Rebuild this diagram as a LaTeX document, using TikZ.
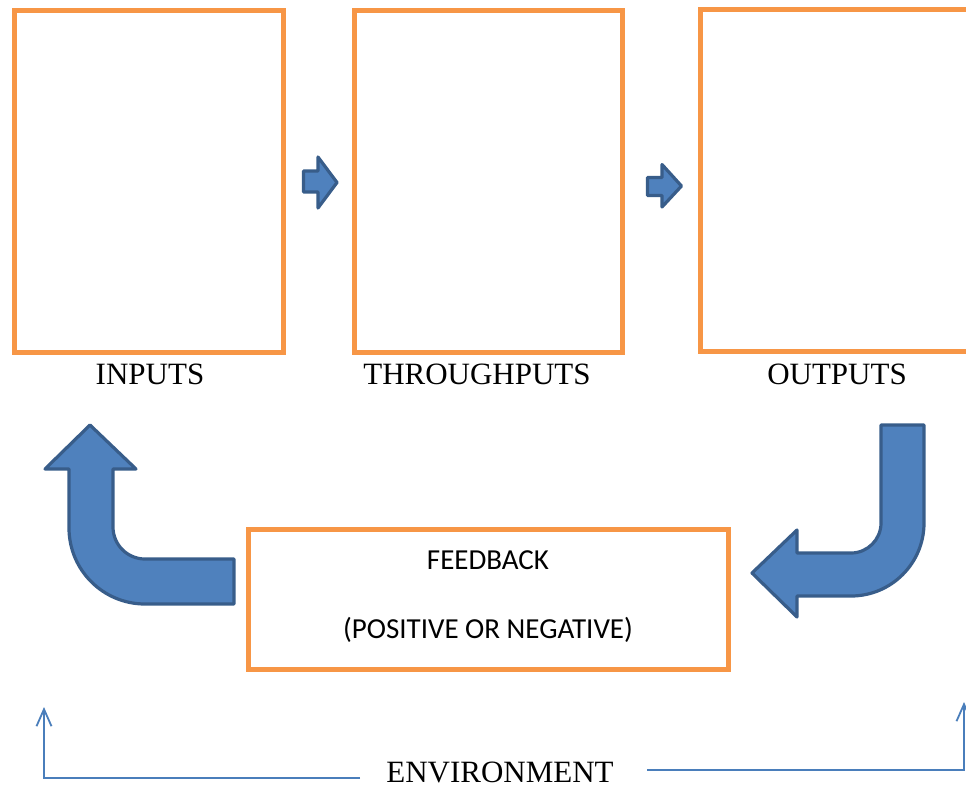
\documentclass[tikz,border=0pt]{standalone}
\usepackage{fontspec}
\setmainfont{Liberation Serif}
\newfontfamily\carlito{Carlito}
\usepackage{tikz}
\usetikzlibrary{positioning}
\usetikzlibrary{arrows.meta}
\definecolor{boxorange}{HTML}{F79646}
\definecolor{arrowblue}{HTML}{4F81BD}
\definecolor{arrowedge}{HTML}{385D8A}
\definecolor{envblue}{HTML}{4A7EBB}

\begin{document}
\begin{tikzpicture}[x=1pt, y=-1pt,
	stagebox/.style={draw=boxorange, line width=5pt, minimum width=#1, minimum height=342pt, inner sep=0pt},
	stagelabel/.style={anchor=base, inner sep=0pt, font=\fontsize{31}{37}\selectfont},
	feedtext/.style={anchor=base, inner sep=0pt, font=\carlito\fontsize{29}{35}\selectfont},
	blockarrow/.style={draw=arrowedge, fill=arrowblue, line width=3.2pt, line join=round},
	envline/.style={draw=envblue, line width=1.8pt, -{Straight Barb[length=17pt, width=15pt]}}]

	\useasboundingbox (0,0) rectangle (966,788);
	% Stages %
	\node [stagebox=269pt] (inputs) at (148.5,181) {};
	\node [stagebox=268pt] (throughputs) at (488,181) {};
	\node [stagebox=280pt] (outputs) at (840,180.5) {};
	\node [stagelabel] (inputslabel) at (150,384) {INPUTS};
	\node [stagelabel] (throughputslabel) at (477,384) {THROUGHPUTS};
	\node [stagelabel] (outputslabel) at (837,384) {OUTPUTS};
	% Small Arrows %
	\draw [blockarrow] (303.5,171) -- (318,171) -- (318,157) -- (337,182.5) -- (318,208) -- (318,192) -- (303.5,192) -- cycle;
	\draw [blockarrow] (647.5,177.5) -- (662,177.5) -- (662,164.5) -- (681.5,186) -- (662,207) -- (662,195.5) -- (647.5,195.5) -- cycle;
	% Feedback %
	\node [draw=boxorange, line width=5pt, minimum width=480pt, minimum height=140pt] (feedback) at (488,599) {};
	\node [feedtext] (feedbacktitle) at (488,569) {FEEDBACK};
	\node [feedtext] (feedbacksign) at (488,638) {(POSITIVE OR NEGATIVE)};
	% Bent Arrows %
	\draw [blockarrow] (90,425) -- (136,469) -- (113,469) -- (113,527) arc (180:90:32) -- (234,559) -- (234,604) -- (145,604) arc (90:180:76) -- (69,469) -- (45,469) -- cycle;
	\draw [blockarrow] (881,425) -- (924,425) -- (924,523) arc (0:90:73) -- (797,596) -- (797,617) -- (752,573) -- (797,530) -- (797,553) -- (851,553) arc (90:0:30) -- cycle;
	% Environment %
	\node [stagelabel] (environment) at (500,782) {ENVIRONMENT};
	\coordinate (envleftend) at (360,778);
	\coordinate (envleftcorner) at (44,778);
	\coordinate (envlefttip) at (44,707);
	\coordinate (envrightend) at (647,770);
	\coordinate (envrightcorner) at (964,770);
	\coordinate (envrighttip) at (964,702);
	\draw [envline] (envleftend) -- (envleftcorner) -- (envlefttip);
	\draw [envline] (envrightend) -- (envrightcorner) -- (envrighttip);
\end{tikzpicture}
\end{document}
